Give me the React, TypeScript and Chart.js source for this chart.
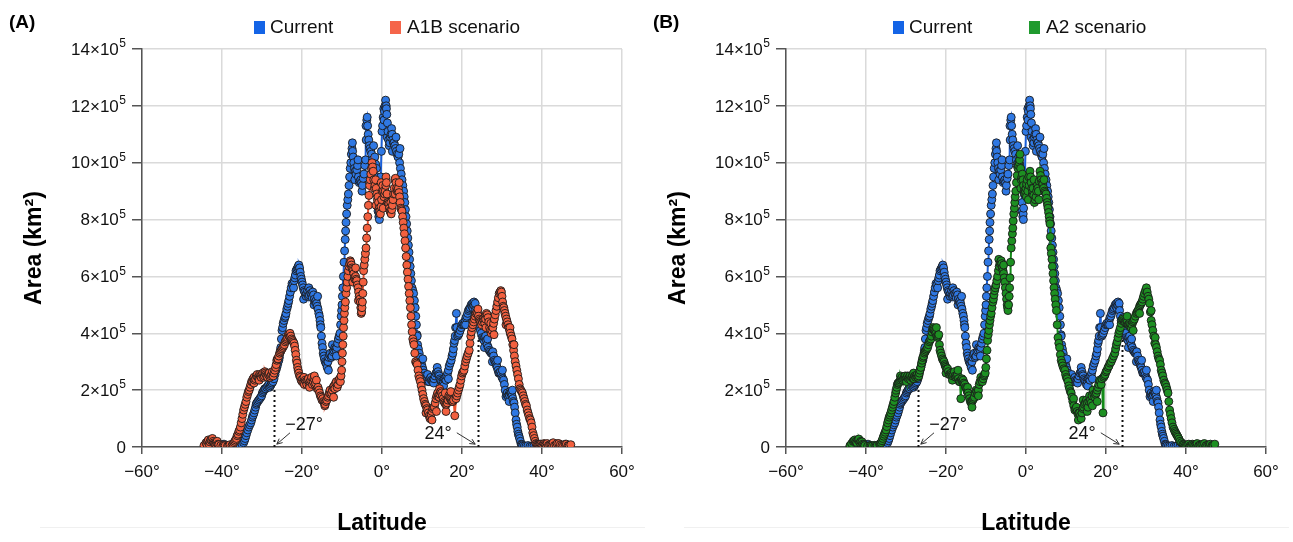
import React, { useEffect, useRef } from 'react';
import { Chart, registerables } from 'chart.js';

Chart.register(...registerables);

const FONT = "'Liberation Sans', Arial, Helvetica, sans-serif";

// ---------- Data (area in units of 10^5 km²) ----------
const currentLat = [
  -44, -43, -42, -41, -40, -39.5, -39, -38, -37, -36,
  -35, -34.6, -34.2, -33.8, -33.3, -32.8, -32.4, -32, -31.6, -31.3,
  -30.8, -30.3, -29.9, -29.5, -29.1, -28.8, -28.3, -27.9, -27.5, -27,
  -26.5, -26.1, -25.8, -25.5, -25.3, -25, -24.7, -24.3, -24, -23.6,
  -23.3, -22.9, -22.5, -22.1, -21.8, -21.5, -21.1, -20.8, -20.6, -20.3,
  -20, -19.7, -19.5, -19.1, -18.8, -18.4, -18, -17.6, -17.3, -16.9,
  -16.5, -16.2, -15.8, -15.5, -15.3, -15, -14.7, -14.4, -14, -13.7,
  -13.3, -12.9, -12.5, -12, -11.6, -11.3, -10.9, -10.5, -10.2, -10,
  -9.8, -9.5, -9.2, -9, -8.7, -8.4, -8.1, -7.8, -7.5, -7.2,
  -6.9, -6.5, -6.1, -5.7, -5.3, -4.9, -4.5, -4.1, -3.8, -3.6,
  -3.3, -3, -2.6, -2.2, -1.8, -1.4, -1.1, -0.8, -0.6, -0.3,
  0, 0.3, 0.6, 0.9, 1.2, 1.5, 1.8, 2.1, 2.4, 2.7,
  3, 3.4, 3.8, 4.2, 4.6, 5, 5.4, 5.7, 6, 6.3,
  6.6, 6.9, 7.2, 7.5, 7.9, 8.3, 8.6, 8.9, 9.3, 9.7,
  10.1, 10.5, 10.9, 11.3, 11.8, 12.2, 12.6, 13, 13.5, 14,
  14.3, 14.7, 15.1, 15.5, 16, 16.4, 16.8, 17.3, 17.7, 18,
  18.3, 18.4, 18.6, 18.9, 19.3, 19.8, 20.2, 20.6, 21, 21.4,
  21.8, 22.3, 22.7, 23, 23.4, 23.8, 24.2, 24.6, 25.1, 25.5,
  25.9, 26.3, 26.8, 27.3, 27.7, 28.1, 28.5, 28.8, 29.2, 29.6,
  30, 30.4, 30.8, 31, 31.3, 31.7, 32, 32.3, 32.7, 33,
  33.3, 33.5, 33.8, 34.1, 34.4, 34.8, 35.2, 36, 37, 38,
  39, 40,
];
const currentArea = [
  0.02, 0.05, 0.03, 0.04, 0.08, 0.1, 0.05, 0.03, 0.05, 0.05,
  0.1, 0.15, 0.3, 0.5, 0.7, 0.85, 1.05, 1.2, 1.4, 1.55,
  1.65, 1.75, 1.9, 2.0, 2.05, 2.1, 2.2, 2.15, 2.25, 2.4,
  2.7, 2.9, 3.05, 3.3, 3.5, 4.1, 4.35, 4.55, 4.7, 4.95,
  5.15, 5.45, 5.75, 5.6, 5.95, 6.2, 6.3, 6.4, 6.3, 6.0,
  5.8, 5.6, 5.5, 5.35, 5.4, 5.3, 5.5, 5.35, 5.45, 5.2,
  5.15, 4.95, 4.7, 4.45, 4.2, 3.65, 3.3, 3.1, 2.95, 2.8,
  3.15, 3.3, 3.2, 3.4, 3.45, 3.5, 3.8, 4.0, 4.6, 5.0,
  5.6, 6.5, 7.3, 7.9, 8.5, 8.9, 9.5, 10.0, 10.5, 10.2,
  9.8, 9.6, 9.9, 9.3, 9.4, 9.2, 9.6, 10.1, 11.5, 11.3,
  10.8, 10.5, 10.3, 9.9, 10.2, 9.8, 9.2, 8.1, 8.4, 9.5,
  11.1, 11.6, 11.8, 12.2, 11.7, 11.1, 10.6, 10.9, 11.2, 10.8,
  10.7, 10.5, 10.3, 10.3, 9.8, 9.4, 9.0, 8.6, 8.1, 7.6,
  7.1, 6.6, 6.1, 5.6, 5.4, 4.9, 4.3, 3.6, 3.3, 3.0,
  2.8, 2.6, 2.4, 2.35, 2.3, 2.45, 2.3, 2.4, 2.6, 2.65,
  2.5, 2.35, 2.2, 2.4, 2.35, 2.6, 2.85, 3.05, 3.3, 3.65,
  3.9, 4.2, 4.7, 3.9, 4.0, 4.2, 4.35, 4.3, 4.55, 4.7,
  4.85, 5.0, 4.9, 5.1, 4.8, 4.45, 4.3, 4.1, 3.85, 3.75,
  3.9, 3.6, 3.4, 3.3, 3.35, 3.05, 2.95, 2.8, 2.6, 2.65,
  2.45, 2.35, 2.0, 1.77, 1.9, 1.75, 1.95, 1.9, 1.7, 1.55,
  1.2, 0.95, 0.7, 0.45, 0.3, 0.1, 0.05, 0.03, 0.02, 0.05,
  0.03, 0.02,
];
// further points read between the ones above: [latitude, area]
const currentExtraPts: [number, number][] = [
  [-43.5, 0.08], [-42.5, 0.02], [-41.5, 0.06], [-40.5, 0.03], [-38.5, 0.02], [-37.5, 0.04], [-36.5, 0.02], [-35.5, 0.06],
  [-34.4, 0.22], [-34.0, 0.4], [-33.55, 0.6], [-33.05, 0.78], [-32.6, 0.95], [-32.2, 1.12], [-31.8, 1.3], [-31.45, 1.5],
  [-31.05, 1.6], [-30.55, 1.7], [-30.1, 1.8], [-29.7, 1.95], [-29.3, 2.05], [-28.55, 2.15], [-28.1, 2.1], [-27.7, 2.2],
  [-27.25, 2.3], [-26.75, 2.55], [-26.3, 2.8], [-25.95, 3.0], [-25.65, 3.15], [-25.4, 3.4], [-25.15, 3.8], [-24.85, 4.2],
  [-24.5, 4.45], [-24.15, 4.6], [-23.8, 4.85], [-23.45, 5.05], [-23.1, 5.3], [-22.7, 5.6], [-22.3, 5.7], [-21.95, 5.85],
  [-21.65, 6.05], [-21.3, 6.25], [-20.95, 6.35], [-20.45, 6.15], [-20.15, 5.9], [-19.85, 5.7], [-19.3, 5.45], [-18.95, 5.3],
  [-18.6, 5.5], [-18.2, 5.35], [-17.8, 5.4], [-17.45, 5.25], [-17.1, 5.35], [-16.7, 5.1], [-16.35, 5.05], [-16.0, 4.85],
  [-15.65, 4.6], [-15.4, 4.3], [-15.15, 3.9], [-14.85, 3.5], [-14.55, 3.2], [-14.2, 3.0], [-13.85, 2.9], [-13.5, 3.0],
  [-13.1, 3.25], [-12.7, 3.15], [-12.25, 3.35], [-11.8, 3.5], [-11.45, 3.4], [-11.1, 3.65], [-10.7, 3.9], [-10.35, 4.3],
  [-10.1, 4.8], [-9.9, 5.3], [-9.65, 6.0], [-9.35, 6.9], [-9.1, 7.6], [-8.85, 8.2], [-8.55, 8.7], [-8.25, 9.2],
  [-7.95, 9.8], [-7.65, 10.3], [-7.35, 10.4], [-7.05, 10.0], [-6.7, 9.7], [-6.3, 9.75], [-5.9, 9.5], [-5.5, 9.35],
  [-5.1, 9.3], [-4.7, 9.45], [-4.3, 9.9], [-3.95, 10.8], [-3.45, 11.0], [-3.15, 10.6], [-2.8, 10.4], [-2.4, 10.1],
  [-2.0, 10.0], [-1.6, 9.95], [-1.25, 9.5], [-0.95, 8.6], [-0.7, 8.2], [-0.45, 8.9], [-0.15, 10.4], [0.15, 11.3],
  [0.45, 11.9], [0.75, 12.0], [1.05, 12.0], [1.35, 11.4], [1.65, 10.8], [1.95, 10.7], [2.25, 11.0], [2.55, 11.0],
  [2.85, 10.7], [3.2, 10.6], [3.6, 10.4], [4.0, 10.2], [4.4, 10.0], [4.8, 9.6], [5.2, 9.2], [5.55, 8.8],
  [5.85, 8.35], [6.15, 7.85], [6.45, 7.35], [6.75, 6.85], [7.05, 6.35], [7.35, 5.85], [7.7, 5.5], [8.1, 5.15],
  [8.45, 4.6], [8.75, 3.95], [9.1, 3.45], [9.5, 3.15], [9.9, 2.9], [10.3, 2.7], [10.7, 2.5], [11.1, 2.4],
  [11.55, 2.3], [12.0, 2.4], [12.4, 2.35], [12.8, 2.35], [13.25, 2.5], [13.75, 2.65], [14.15, 2.55], [14.5, 2.4],
  [14.9, 2.3], [15.3, 2.3], [15.75, 2.4], [16.2, 2.5], [16.6, 2.7], [17.05, 2.95], [17.5, 3.2], [17.85, 3.45],
  [18.15, 3.75], [19.1, 3.95], [19.55, 4.1], [20.0, 4.3], [20.4, 4.3], [20.8, 4.45], [21.2, 4.6], [21.6, 4.8],
  [22.05, 4.9], [22.5, 4.95], [22.85, 5.0], [23.2, 4.95], [23.6, 4.6], [24.0, 4.35], [24.4, 4.2], [24.85, 4.0],
  [25.3, 3.8], [25.7, 3.85], [26.1, 3.75], [26.55, 3.5], [27.05, 3.35], [27.5, 3.3], [27.9, 3.2], [28.3, 3.0],
  [28.65, 2.85], [29.0, 2.7], [29.4, 2.6], [29.8, 2.55], [30.2, 2.4], [30.6, 2.2], [31.15, 1.85], [31.5, 1.8],
  [31.85, 1.85], [32.15, 1.9], [32.5, 1.8], [32.85, 1.6], [33.15, 1.4], [33.65, 0.8], [33.95, 0.55], [34.25, 0.38],
  [34.6, 0.2], [35.0, 0.08], [35.6, 0.04], [36.5, 0.05], [37.5, 0.03], [38.5, 0.02], [39.5, 0.04],
];
// scattered points lying off the main trace
const currentScatterPts: [number, number][] = [
  [-19.6, 5.2], [-18.3, 5.6], [-17.0, 5.0], [-16.1, 5.3], [-13.4, 2.7], [-12.4, 3.6], [-11.4, 3.2], [-7.4, 10.7],
  [-6.8, 9.4], [-6.0, 10.1], [-5.0, 9.0], [-4.0, 11.3], [-3.7, 11.6], [-2.1, 10.6], [-1.0, 8.3], [-0.65, 8.0],
  [0.5, 11.5], [1.1, 11.9], [1.3, 10.9], [2.6, 10.4], [3.5, 10.9], [4.5, 10.5], [8.8, 3.9], [10.2, 3.1],
  [11.4, 2.55], [12.9, 2.25], [13.8, 2.8], [15.4, 2.15], [16.6, 2.4], [18.7, 4.2], [20.9, 4.3], [22.6, 5.05],
  [23.3, 5.05], [24.3, 4.55], [25.6, 3.5], [26.4, 3.8], [27.6, 3.0], [28.9, 3.05], [30.1, 2.7], [31.8, 1.6],
  [32.6, 2.0],
];

const a1bLat = [
  -44.5, -44, -43.6, -43.2, -42.8, -42.4, -42, -41.6, -41.2, -40.8,
  -40.3, -39.8, -39.2, -38.6, -38, -37.5, -37, -36.6, -36.2, -35.8,
  -35.4, -35, -34.6, -34.2, -33.8, -33.4, -33, -32.6, -32.2, -31.8,
  -31.4, -31, -30.6, -30.2, -29.8, -29.4, -29, -28.6, -28.2, -27.8,
  -27.4, -27, -26.6, -26.3, -26, -25.6, -25.2, -24.8, -24.4, -24,
  -23.6, -23.2, -22.8, -22.4, -22, -21.7, -21.4, -21.1, -20.8, -20.4,
  -20, -19.6, -19.2, -18.8, -18.4, -18, -17.6, -17.2, -16.8, -16.4,
  -16, -15.6, -15.2, -14.8, -14.4, -14, -13.6, -13.2, -12.8, -12.4,
  -12, -11.6, -11.2, -10.8, -10.4, -10.1, -9.9, -9.7, -9.5, -9.3,
  -9, -8.7, -8.4, -8.1, -7.8, -7.5, -7.2, -6.9, -6.6, -6.3,
  -6, -5.7, -5.4, -5.2, -5, -4.8, -4.6, -4.3, -4, -3.7,
  -3.4, -3.1, -2.8, -2.5, -2.2, -1.9, -1.6, -1.3, -1, -0.7,
  -0.4, -0.1, 0.2, 0.5, 0.8, 1.1, 1.4, 1.7, 2, 2.3,
  2.6, 2.9, 3.2, 3.5, 3.8, 4.1, 4.4, 4.7, 5, 5.3,
  5.6, 5.9, 6.2, 6.5, 6.8, 7.1, 7.4, 7.7, 8, 8.4,
  8.8, 9.2, 9.6, 10, 10.4, 10.8, 11.2, 11.6, 12, 12.3,
  12.7, 13.1, 13.5, 13.9, 14.3, 14.7, 15.1, 15.5, 15.9, 16.3,
  16.7, 17.1, 17.5, 17.9, 18.2, 18.5, 18.9, 19.3, 19.7, 20.1,
  20.5, 20.9, 21.3, 21.8, 22.2, 22.5, 22.9, 23.3, 23.7, 24.1,
  24.5, 24.9, 25.3, 25.7, 26.1, 26.5, 26.9, 27.3, 27.7, 28.1,
  28.5, 28.9, 29.3, 29.7, 30, 30.3, 30.6, 30.9, 31.3, 31.7,
  32.1, 32.5, 32.9, 33.3, 33.7, 34.1, 34.5, 34.9, 35.3, 35.7,
  36.1, 36.5, 36.9, 37.3, 37.7, 38.1, 38.5, 39, 39.5, 40,
  40.5, 41, 41.6, 42.2, 42.8, 43.5, 44.2, 45, 45.8, 46.5,
  47.2,
];
const a1bArea = [
  0.05, 0.15, 0.2, 0.1, 0.25, 0.3, 0.15, 0.1, 0.2, 0.08,
  0.05, 0.03, 0.05, 0.04, 0.08, 0.05, 0.15, 0.25, 0.4, 0.55,
  0.7, 1.0, 1.3, 1.5, 1.75, 1.95, 2.1, 2.3, 2.4, 2.35,
  2.5, 2.45, 2.55, 2.45, 2.6, 2.5, 2.55, 2.45, 2.6, 2.5,
  2.65, 2.6, 2.8, 3.05, 3.1, 3.3, 3.4, 3.5, 3.6, 3.75,
  3.85, 3.9, 3.9, 3.75, 3.65, 3.4, 3.05, 2.8, 2.6, 2.45,
  2.3, 2.25, 2.35, 2.2, 2.4, 2.3, 2.45, 2.3, 2.2, 2.35,
  2.1, 1.9, 1.75, 1.7, 1.55, 1.6, 1.75, 1.9, 1.85, 2.0,
  2.15, 2.25, 2.1, 2.35, 2.3, 2.7, 3.3, 3.9, 4.45, 4.9,
  5.4, 5.8, 6.2, 6.45, 6.5, 6.3, 6.2, 5.95, 6.0, 5.85,
  5.6, 5.3, 5.1, 4.7, 4.9, 5.4, 6.2, 6.6, 7.0, 7.7,
  8.5, 9.2, 9.6, 10.0, 9.7, 9.1, 9.4, 8.9, 8.8, 8.4,
  8.2, 8.7, 9.2, 8.8, 9.0, 9.3, 8.6, 8.55, 8.3, 8.2,
  8.5, 8.9, 9.4, 9.3, 9.0, 9.1, 8.8, 8.4, 8.3, 7.9,
  7.5, 7.0, 6.4, 5.9, 5.4, 4.9, 4.3, 3.8, 3.6, 3.0,
  2.9, 2.5, 2.3, 2.0, 1.7, 1.5, 1.35, 1.2, 1.0, 1.15,
  1.35, 1.4, 1.7, 1.9, 1.75, 1.95, 1.8, 1.6, 1.5, 1.55,
  1.8, 1.7, 1.6, 1.65, 1.1, 1.7, 1.9, 2.1, 2.35, 2.6,
  2.7, 3.0, 3.2, 3.4, 3.9, 4.2, 4.4, 4.6, 4.75, 4.6,
  4.45, 4.3, 4.5, 4.35, 4.7, 4.55, 4.2, 4.0, 4.2, 4.5,
  4.8, 5.1, 5.4, 5.5, 5.3, 4.95, 4.8, 4.6, 4.4, 4.2,
  4.0, 3.8, 3.4, 3.0, 2.7, 2.4, 2.05, 1.95, 1.8, 1.6,
  1.45, 1.2, 1.0, 0.85, 0.5, 0.3, 0.12, 0.08, 0.1, 0.06,
  0.12, 0.08, 0.05, 0.1, 0.15, 0.08, 0.12, 0.06, 0.1, 0.05,
  0.08,
];
const a1bExtraPts: [number, number][] = [
  [-43.8, 0.1], [-43.4, 0.25], [-43.0, 0.18], [-42.6, 0.22], [-42.2, 0.2], [-41.8, 0.12], [-41.4, 0.15], [-41.0, 0.1],
  [-39.5, 0.06], [-38.3, 0.05], [-37.25, 0.1], [-36.8, 0.2], [-36.4, 0.3], [-36.0, 0.45], [-35.6, 0.6], [-35.2, 0.85],
  [-34.8, 1.15], [-34.4, 1.4], [-34.0, 1.6], [-33.6, 1.85], [-33.2, 2.0], [-32.8, 2.2], [-32.4, 2.3], [-32.0, 2.45],
  [-31.6, 2.4], [-31.2, 2.55], [-30.8, 2.4], [-30.4, 2.5], [-30.0, 2.55], [-29.6, 2.45], [-29.2, 2.6], [-28.8, 2.5],
  [-28.4, 2.55], [-28.0, 2.45], [-27.6, 2.55], [-27.2, 2.5], [-26.8, 2.7], [-26.45, 2.9], [-26.15, 3.1], [-25.8, 3.2],
  [-25.4, 3.35], [-25.0, 3.45], [-24.6, 3.55], [-24.2, 3.7], [-23.8, 3.8], [-23.4, 3.95], [-23.0, 3.85], [-22.6, 3.8],
  [-22.2, 3.7], [-21.85, 3.55], [-21.55, 3.25], [-21.25, 2.95], [-20.95, 2.7], [-20.6, 2.5], [-20.2, 2.35], [-19.8, 2.4],
  [-19.4, 2.2], [-19.0, 2.3], [-18.6, 2.35], [-18.2, 2.2], [-17.8, 2.35], [-17.4, 2.2], [-17.0, 2.4], [-16.6, 2.25],
  [-16.2, 2.05], [-15.8, 2.0], [-15.4, 1.8], [-15.0, 1.65], [-14.6, 1.6], [-14.2, 1.5], [-13.8, 1.65], [-13.4, 1.8],
  [-13.0, 2.0], [-12.6, 1.9], [-12.2, 2.1], [-11.8, 2.05], [-11.4, 2.3], [-11.0, 2.2], [-10.6, 2.4], [-10.25, 2.5],
  [-10.0, 3.0], [-9.8, 3.6], [-9.6, 4.2], [-9.4, 4.7], [-9.15, 5.1], [-8.85, 5.6], [-8.55, 6.0], [-8.25, 6.35],
  [-7.95, 6.55], [-7.65, 6.4], [-7.35, 6.25], [-7.05, 6.1], [-6.75, 5.9], [-6.45, 5.9], [-6.15, 5.7], [-5.85, 5.45],
  [-5.55, 5.2], [-5.3, 4.9], [-5.1, 4.75], [-4.9, 5.1], [-4.7, 5.8], [-4.45, 6.4], [-4.15, 6.8], [-3.85, 7.35],
  [-3.55, 8.1], [-3.25, 8.85], [-2.95, 9.4], [-2.65, 9.8], [-2.35, 9.85], [-2.05, 9.4], [-1.75, 9.2], [-1.45, 9.1],
  [-1.15, 8.7], [-0.85, 8.6], [-0.55, 8.3], [-0.25, 8.45], [0.05, 9.0], [0.35, 9.0], [0.65, 8.9], [0.95, 9.2],
  [1.25, 8.9], [1.55, 8.6], [1.85, 8.4], [2.15, 8.25], [2.45, 8.35], [2.75, 8.7], [3.05, 9.1], [3.35, 9.45],
  [3.65, 9.1], [3.95, 9.05], [4.25, 8.95], [4.55, 8.6], [4.85, 8.35], [5.15, 8.1], [5.45, 7.7], [5.75, 7.25],
  [6.05, 6.7], [6.35, 6.15], [6.65, 5.65], [6.95, 5.15], [7.25, 4.6], [7.55, 4.05], [7.85, 3.7], [8.2, 3.3],
  [8.6, 2.95], [9.0, 2.7], [9.4, 2.4], [9.8, 2.15], [10.2, 1.85], [10.6, 1.6], [11.0, 1.45], [11.4, 1.3],
  [11.8, 1.1], [12.15, 1.05], [12.5, 1.25], [12.9, 1.4], [13.3, 1.55], [13.7, 1.8], [14.1, 1.8], [14.5, 1.85],
  [14.9, 1.9], [15.3, 1.7], [15.7, 1.55], [16.1, 1.5], [16.5, 1.65], [16.9, 1.75], [17.3, 1.65], [17.7, 1.6],
  [18.7, 1.8], [19.1, 2.0], [19.5, 2.2], [19.9, 2.5], [20.3, 2.65], [20.7, 2.85], [21.1, 3.1], [21.55, 3.3],
  [22.0, 3.65], [22.35, 4.05], [22.7, 4.3], [23.1, 4.5], [23.5, 4.7], [23.9, 4.7], [24.3, 4.5], [24.7, 4.4],
  [25.1, 4.4], [25.5, 4.45], [25.9, 4.5], [26.3, 4.65], [26.7, 4.4], [27.1, 4.1], [27.5, 4.1], [27.9, 4.35],
  [28.3, 4.65], [28.7, 4.95], [29.1, 5.25], [29.5, 5.45], [29.85, 5.45], [30.15, 5.1], [30.45, 4.9], [30.75, 4.7],
  [31.1, 4.5], [31.5, 4.3], [31.9, 4.1], [32.3, 3.9], [32.7, 3.6], [33.1, 3.2], [33.5, 2.85], [33.9, 2.55],
  [34.3, 2.2], [34.7, 2.0], [35.1, 1.9], [35.5, 1.7], [35.9, 1.5], [36.3, 1.3], [36.7, 1.1], [37.1, 0.95],
  [37.5, 0.7], [37.9, 0.4], [38.3, 0.2], [38.75, 0.1], [39.25, 0.08], [39.75, 0.1], [40.25, 0.05], [40.75, 0.1],
  [41.3, 0.12], [41.9, 0.08], [42.5, 0.1], [43.1, 0.05], [43.8, 0.12], [44.6, 0.08], [45.4, 0.06], [46.1, 0.1],
  [46.8, 0.05],
];
const a1bScatterPts: [number, number][] = [
  [-32.0, 2.25], [-30.7, 2.35], [-29.3, 2.65], [-23.0, 4.0], [-19.5, 2.45], [-18.1, 2.1], [-16.9, 2.5], [-14.3, 1.45],
  [-12.1, 1.75], [-7.3, 5.8], [-6.6, 6.3], [-5.9, 5.15], [-1.5, 8.5], [-0.2, 9.3], [0.3, 8.4], [1.0, 9.5],
  [2.2, 8.6], [3.3, 8.9], [4.3, 9.3], [11.0, 1.2], [12.5, 0.95], [13.6, 1.25], [14.4, 2.05], [15.8, 1.9],
  [16.0, 1.25], [17.2, 1.95], [24.0, 4.85], [25.8, 4.6], [26.0, 4.2], [27.2, 4.35], [28.0, 3.95], [31.0, 4.3],
  [32.0, 4.2], [33.0, 3.6],
];

const a2Lat = [
  -44, -43.2, -42.8, -42.3, -41.8, -41.3, -40.8, -40.3, -39.6, -39,
  -38.4, -37.8, -37.2, -36.6, -36.2, -35.8, -35.4, -35, -34.6, -34.2,
  -33.8, -33.4, -33, -32.6, -32.3, -32, -31.6, -31.2, -30.8, -30.4,
  -30, -29.6, -29.2, -28.8, -28.4, -28, -27.6, -27.2, -26.8, -26.5,
  -26.1, -25.8, -25.4, -25, -24.6, -24.2, -23.8, -23.5, -23.2, -22.9,
  -22.5, -22.1, -21.8, -21.5, -21.1, -20.7, -20.3, -20, -19.6, -19.2,
  -18.7, -18.3, -17.9, -17.5, -17.1, -16.7, -16.3, -16, -15.7, -15.3,
  -14.9, -14.5, -14.1, -13.7, -13.3, -12.9, -12.5, -12.1, -11.7, -11.3,
  -10.9, -10.5, -10.2, -9.9, -9.6, -9.3, -9, -8.7, -8.3, -8,
  -7.7, -7.3, -6.9, -6.5, -6.2, -5.9, -5.6, -5.3, -5, -4.7,
  -4.5, -4.2, -4, -3.7, -3.4, -3.2, -2.9, -2.7, -2.4, -2,
  -1.7, -1.5, -1.2, -0.9, -0.6, -0.3, 0, 0.3, 0.6, 1,
  1.3, 1.6, 1.8, 2.1, 2.5, 2.8, 3.1, 3.5, 3.8, 4.2,
  4.6, 5, 5.3, 5.5, 5.8, 6, 6.2, 6.5, 6.75, 7,
  7.3, 7.6, 8, 8.4, 8.8, 9.2, 9.7, 10.1, 10.5, 10.9,
  11.3, 11.7, 12.2, 12.6, 13, 13.4, 13.8, 14.2, 14.6, 15.1,
  15.5, 15.9, 16.3, 16.75, 17.2, 17.6, 18, 18.4, 18.8, 19.25,
  19.6, 20, 20.5, 21, 21.6, 22.2, 22.6, 23, 23.4, 23.8,
  24.2, 24.6, 25.1, 25.5, 25.9, 26.3, 26.7, 27.1, 27.6, 28,
  28.4, 28.8, 29.2, 29.6, 30.1, 30.5, 30.9, 31.3, 31.7, 32.2,
  32.6, 33, 33.4, 33.8, 34.2, 34.7, 35.1, 35.5, 35.9, 36.3,
  36.75, 37.2, 37.6, 38, 38.5, 39.25, 39.8, 40.4, 41, 41.6,
  42.2, 42.8, 43.5, 44.2, 45, 45.8, 46.5, 47.2,
];
const a2Area = [
  0.05, 0.2, 0.25, 0.15, 0.28, 0.2, 0.1, 0.05, 0.03, 0.05,
  0.04, 0.06, 0.05, 0.1, 0.15, 0.3, 0.45, 0.6, 0.85, 1.05,
  1.2, 1.4, 1.6, 1.9, 2.1, 2.25, 2.3, 2.4, 2.35, 2.45,
  2.4, 2.5, 2.45, 2.35, 2.5, 2.4, 2.45, 2.55, 2.5, 2.7,
  2.95, 3.15, 3.3, 3.4, 3.5, 3.7, 3.8, 4.05, 4.2, 4.1,
  4.0, 3.85, 3.95, 3.4, 3.2, 3.05, 2.9, 2.8, 2.75, 2.55,
  2.6, 2.5, 2.65, 2.45, 2.55, 2.3, 1.7, 2.4, 2.35, 2.2,
  2.05, 1.9, 1.7, 1.55, 1.65, 1.75, 2.0, 1.85, 2.2, 2.45,
  2.3, 2.5, 2.6, 3.1, 3.75, 4.1, 4.45, 4.7, 5.1, 5.35,
  5.6, 5.85, 6.2, 6.45, 6.55, 6.3, 6.1, 5.8, 5.4, 5.0,
  4.8, 5.3, 5.95, 7.0, 7.5, 7.95, 8.4, 8.8, 9.3, 9.8,
  10.0, 10.3, 9.4, 9.6, 9.2, 8.9, 9.1, 9.4, 8.7, 9.7,
  9.3, 8.9, 9.1, 8.6, 8.8, 9.2, 9.0, 9.7, 9.4, 9.25,
  9.0, 8.9, 8.6, 8.4, 8.1, 7.85, 7.0, 6.6, 6.1, 5.6,
  5.2, 4.8, 3.85, 3.5, 3.05, 2.85, 2.7, 2.45, 2.3, 2.05,
  1.9, 1.6, 1.3, 1.4, 1.15, 1.2, 1.0, 1.35, 1.5, 1.65,
  1.4, 1.8, 1.55, 2.0, 1.75, 1.9, 2.1, 2.35, 2.2, 1.2,
  2.5, 2.65, 2.8, 2.95, 3.1, 3.3, 3.6, 3.85, 4.1, 4.35,
  4.5, 4.4, 4.45, 4.3, 4.35, 4.2, 4.4, 4.5, 4.7, 4.8,
  4.95, 5.05, 5.2, 5.4, 5.6, 5.3, 5.05, 4.45, 4.1, 3.65,
  3.5, 3.2, 3.05, 2.7, 2.5, 2.25, 2.1, 1.9, 1.3, 1.0,
  0.7, 0.55, 0.45, 0.35, 0.2, 0.1, 0.05, 0.08, 0.04, 0.1,
  0.06, 0.12, 0.07, 0.1, 0.05, 0.08, 0.05, 0.1,
];
const a2ExtraPts: [number, number][] = [
  [-43.6, 0.12], [-43.0, 0.22], [-42.5, 0.2], [-42.0, 0.25], [-41.5, 0.15], [-41.0, 0.18], [-40.5, 0.08], [-38.7, 0.05],
  [-37.5, 0.04], [-36.4, 0.12], [-36.0, 0.22], [-35.6, 0.38], [-35.2, 0.52], [-34.8, 0.72], [-34.4, 0.95], [-34.0, 1.12],
  [-33.6, 1.3], [-33.2, 1.5], [-32.8, 1.75], [-32.45, 2.0], [-32.15, 2.2], [-31.8, 2.25], [-31.4, 2.35], [-31.0, 2.45],
  [-30.6, 2.4], [-30.2, 2.5], [-29.8, 2.45], [-29.4, 2.4], [-29.0, 2.5], [-28.6, 2.45], [-28.2, 2.4], [-27.8, 2.5],
  [-27.4, 2.5], [-27.0, 2.45], [-26.65, 2.6], [-26.3, 2.8], [-25.95, 3.05], [-25.6, 3.2], [-25.2, 3.35], [-24.8, 3.45],
  [-24.4, 3.6], [-24.0, 3.75], [-23.65, 3.9], [-23.35, 4.15], [-23.05, 4.15], [-22.7, 4.05], [-22.3, 3.9], [-21.95, 3.9],
  [-21.65, 3.6], [-21.3, 3.3], [-20.9, 3.1], [-20.5, 3.0], [-20.15, 2.85], [-19.8, 2.75], [-19.4, 2.65], [-18.95, 2.55],
  [-18.5, 2.55], [-18.1, 2.55], [-17.7, 2.5], [-17.3, 2.5], [-16.9, 2.4], [-16.5, 2.3], [-16.15, 2.35], [-15.85, 2.3],
  [-15.5, 2.25], [-15.1, 2.1], [-14.7, 1.95], [-14.3, 1.8], [-13.9, 1.6], [-13.5, 1.6], [-13.1, 1.7], [-12.7, 1.9],
  [-12.3, 1.95], [-11.9, 2.0], [-11.5, 2.3], [-11.1, 2.35], [-10.7, 2.4], [-10.35, 2.55], [-10.05, 2.8], [-9.75, 3.4],
  [-9.45, 3.95], [-9.15, 4.3], [-8.85, 4.6], [-8.5, 4.9], [-8.15, 5.2], [-7.85, 5.5], [-7.5, 5.7], [-7.1, 6.0],
  [-6.7, 6.35], [-6.35, 6.5], [-6.05, 6.45], [-5.75, 6.2], [-5.45, 5.95], [-5.15, 5.6], [-4.85, 5.2], [-4.6, 4.9],
  [-4.35, 5.0], [-4.1, 5.6], [-3.85, 6.5], [-3.55, 7.25], [-3.3, 7.7], [-3.05, 8.2], [-2.8, 8.6], [-2.55, 9.0],
  [-2.2, 9.55], [-1.85, 9.9], [-1.6, 10.1], [-1.35, 9.8], [-1.05, 9.5], [-0.75, 9.4], [-0.45, 9.0], [-0.15, 9.0],
  [0.15, 9.25], [0.45, 9.0], [0.8, 9.2], [1.15, 9.5], [1.45, 9.1], [1.7, 9.0], [1.95, 8.85], [2.3, 8.7],
  [2.65, 9.0], [2.95, 9.1], [3.3, 9.35], [3.65, 9.55], [4.0, 9.3], [4.4, 9.1], [4.8, 8.95], [5.15, 8.75],
  [5.4, 8.5], [5.65, 8.25], [5.9, 7.95], [6.1, 7.4], [6.35, 6.8], [6.6, 6.35], [6.9, 5.85], [7.15, 5.4],
  [7.45, 5.0], [7.8, 4.3], [8.2, 3.65], [8.6, 3.25], [9.0, 2.95], [9.45, 2.75], [9.9, 2.55], [10.3, 2.4],
  [10.7, 2.15], [11.1, 1.95], [11.5, 1.75], [11.95, 1.45], [12.4, 1.35], [12.8, 1.25], [13.2, 1.2], [13.6, 1.1],
  [14.0, 1.2], [14.4, 1.4], [14.85, 1.55], [15.3, 1.55], [15.7, 1.6], [16.1, 1.65], [16.5, 1.8], [17.0, 1.85],
  [17.4, 1.85], [17.8, 2.0], [18.2, 2.2], [18.6, 2.3], [19.0, 2.4], [19.4, 2.45], [19.8, 2.55], [20.25, 2.7],
  [20.75, 2.85], [21.3, 3.0], [21.9, 3.2], [22.4, 3.45], [22.8, 3.7], [23.2, 4.0], [23.6, 4.2], [24.0, 4.45],
  [24.4, 4.45], [24.85, 4.4], [25.3, 4.4], [25.7, 4.3], [26.1, 4.3], [26.5, 4.3], [26.9, 4.45], [27.35, 4.6],
  [27.8, 4.75], [28.2, 4.85], [28.6, 5.0], [29.0, 5.1], [29.4, 5.3], [29.85, 5.5], [30.3, 5.45], [30.7, 5.2],
  [31.1, 4.75], [31.5, 4.3], [31.95, 3.9], [32.4, 3.6], [32.8, 3.35], [33.2, 3.1], [33.6, 2.9], [34.0, 2.6],
  [34.45, 2.35], [34.9, 2.2], [35.3, 2.0], [35.7, 1.6], [36.1, 1.15], [36.5, 0.85], [37.0, 0.62], [37.4, 0.5],
  [37.8, 0.4], [38.25, 0.28], [38.9, 0.15], [39.5, 0.08], [40.1, 0.06], [40.7, 0.1], [41.3, 0.05], [41.9, 0.08],
  [42.5, 0.1], [43.2, 0.05], [43.9, 0.08], [44.6, 0.12], [45.4, 0.06], [46.1, 0.1], [46.8, 0.06],
];
const a2ScatterPts: [number, number][] = [
  [-31.4, 2.5], [-29.9, 2.3], [-28.1, 2.6], [-22.4, 4.2], [-20.0, 2.6], [-18.4, 2.35], [-17.0, 2.7], [-14.6, 2.1],
  [-13.5, 1.4], [-11.9, 1.8], [-6.8, 6.6], [-5.6, 6.4], [-1.3, 9.1], [0.1, 8.8], [0.7, 9.5], [2.0, 9.4],
  [3.2, 8.7], [4.5, 9.4], [11.9, 1.7], [13.1, 0.95], [14.3, 1.65], [15.3, 1.25], [16.6, 1.45], [17.8, 1.6],
  [25.3, 4.6], [26.8, 4.1], [28.4, 4.7], [31.3, 4.8], [32.3, 3.85],
];

// Marked latitudes (dotted lines) and their heights
const markLats = [-27, 24];
const markTops = [2.1, 4.3];
const markLabels = ['\u221227\u00b0', '24\u00b0'];

const xMin = -60, xMax = 60, xStep = 20;
const yMin = 0, yMax = 14, yStep = 2;
const yTickValues = [0, 2, 4, 6, 8, 10, 12, 14];

// ---------- Styles ----------
const BLUE = { fill: '#2f78e3', line: '#1a5fd8', legend: '#1464e6' };
const RED = { fill: '#f2603f', line: '#ee4f2b', legend: '#f5654a' };
const GREEN = { fill: '#1d8f22', line: '#138a18', legend: '#1f9a2e' };

function series(lat: number[], area: number[], extra: [number, number][], scatter: [number, number][]) {
  const n = Math.min(lat.length, area.length);
  const out: { x: number; y: number }[] = [];
  for (let i = 0; i < n; i++) out.push({ x: lat[i], y: area[i] });
  extra.forEach(([x, y]) => out.push({ x, y }));
  scatter.forEach(([x, y]) => out.push({ x, y }));
  out.sort((a, b) => a.x - b.x);
  return out;
}

function fmtLat(v: number) {
  if (v === 0) return '0\u00b0';
  return (v < 0 ? '\u2212' + Math.abs(v) : String(v)) + '\u00b0';
}

type Spec = {
  tag: string;
  scenario: string;
  lat: number[];
  area: number[];
  extra: [number, number][];
  scatter: [number, number][];
  colors: { fill: string; line: string; legend: string };
  legendShift: number;
};

function arrow(ctx: CanvasRenderingContext2D, x1: number, y1: number, x2: number, y2: number) {
  ctx.save();
  ctx.strokeStyle = '#333';
  ctx.lineWidth = 1;
  ctx.beginPath();
  ctx.moveTo(x1, y1);
  ctx.lineTo(x2, y2);
  ctx.stroke();
  const ang = Math.atan2(y2 - y1, x2 - x1);
  const L = 6;
  ctx.beginPath();
  ctx.moveTo(x2 - L * Math.cos(ang - 0.45), y2 - L * Math.sin(ang - 0.45));
  ctx.lineTo(x2, y2);
  ctx.lineTo(x2 - L * Math.cos(ang + 0.45), y2 - L * Math.sin(ang + 0.45));
  ctx.stroke();
  ctx.restore();
}

function makeOverlay(spec: Spec) {
  return {
    id: 'overlay' + spec.tag,
    beforeDraw(chart: any) {
      const { ctx } = chart;
      ctx.save();
      ctx.strokeStyle = '#f0f0f0';
      ctx.lineWidth = 1;
      ctx.beginPath();
      ctx.moveTo(40, 527.5);
      ctx.lineTo(chart.width, 527.5);
      ctx.stroke();
      ctx.restore();
    },
    beforeDatasetsDraw(chart: any) {
      const { ctx, scales } = chart;
      const xs = scales.x, ys = scales.y;
      ctx.save();
      ctx.strokeStyle = '#111';
      ctx.lineWidth = 2;
      ctx.setLineDash([2, 3]);
      markLats.forEach((lat, i) => {
        const px = Math.round(xs.getPixelForValue(lat)) + 0.5;
        ctx.beginPath();
        ctx.moveTo(px, ys.getPixelForValue(0));
        ctx.lineTo(px, ys.getPixelForValue(markTops[i]));
        ctx.stroke();
      });
      ctx.restore();
    },
    afterDatasetsDraw(chart: any) {
      const { ctx, scales } = chart;
      const xs = scales.x, ys = scales.y;
      const X = (v: number) => xs.getPixelForValue(v);
      const Y = (v: number) => ys.getPixelForValue(v);
      ctx.save();
      ctx.fillStyle = '#111';
      ctx.font = `18px ${FONT}`;
      ctx.textAlign = 'center';
      ctx.textBaseline = 'middle';
      ctx.fillText(markLabels[0], X(-19.5), Y(0.78));
      ctx.fillText(markLabels[1], X(14), Y(0.46));
      ctx.restore();
      arrow(ctx, X(-23), Y(0.5), X(-26.3), Y(0.1));
      arrow(ctx, X(18.7), Y(0.5), X(23.3), Y(0.1));
    },
    afterDraw(chart: any) {
      const { ctx, scales } = chart;
      const ys = scales.y;
      ctx.save();
      // y tick labels with superscript exponent
      const R = 126;
      ctx.fillStyle = '#111';
      ctx.textBaseline = 'middle';
      ctx.textAlign = 'left';
      yTickValues.forEach((v) => {
        const y = ys.getPixelForValue(v);
        ctx.font = `17px ${FONT}`;
        if (v === 0) {
          const w = ctx.measureText('0').width;
          ctx.fillText('0', R - w, y + 1);
          return;
        }
        const base = `${v}\u00d710`;
        const wb = ctx.measureText(base).width;
        ctx.font = `12px ${FONT}`;
        const ws = ctx.measureText('5').width;
        ctx.fillText('5', R - ws, y - 5);
        ctx.font = `17px ${FONT}`;
        ctx.fillText(base, R - ws - wb - 0.5, y + 1);
      });
      // panel tag
      ctx.fillStyle = '#000';
      ctx.font = `bold 19px ${FONT}`;
      ctx.fillText(`(${spec.tag})`, 9, 23);
      // legend
      const s = spec.legendShift;
      ctx.font = `19px ${FONT}`;
      ctx.fillStyle = BLUE.legend;
      ctx.fillRect(254 + s, 21, 11, 13);
      ctx.fillStyle = '#111';
      ctx.fillText('Current', 270 + s, 28);
      ctx.fillStyle = spec.colors.legend;
      ctx.fillRect(390 + s, 21, 11, 13);
      ctx.fillStyle = '#111';
      ctx.fillText(spec.scenario, 407 + s, 28);
      ctx.restore();
    },
  };
}

function buildConfig(spec: Spec): any {
  const gridColor = '#dadada';
  const axisColor = '#555';
  const pointStyle = {
    showLine: true,
    borderWidth: 2,
    pointBorderColor: '#1a1a1a',
    pointBorderWidth: 0.9,
    pointRadius: 4,
    tension: 0,
  };
  return {
    type: 'scatter',
    data: {
      datasets: [
        {
          label: 'Current',
          data: series(currentLat, currentArea, currentExtraPts, currentScatterPts),
          borderColor: BLUE.line,
          backgroundColor: BLUE.fill,
          pointBackgroundColor: BLUE.fill,
          order: 1,
          ...pointStyle,
        },
        {
          label: spec.scenario,
          data: series(spec.lat, spec.area, spec.extra, spec.scatter),
          borderColor: spec.colors.line,
          backgroundColor: spec.colors.fill,
          pointBackgroundColor: spec.colors.fill,
          order: 0,
          ...pointStyle,
        },
      ],
    },
    options: {
      animation: false,
      responsive: false,
      devicePixelRatio: 1,
      layout: { padding: { left: 0, right: 23, top: 49, bottom: 0 } },
      plugins: { legend: { display: false }, tooltip: { enabled: false } },
      scales: {
        x: {
          type: 'linear',
          min: xMin,
          max: xMax,
          ticks: {
            stepSize: xStep,
            callback: (v: number) => fmtLat(v),
            color: '#111',
            font: { family: FONT, size: 17 },
            padding: 8,
            maxRotation: 0,
          },
          grid: { color: gridColor, lineWidth: 1.5, tickLength: 7, tickColor: axisColor, tickWidth: 1.5 },
          border: { color: axisColor, width: 1.5 },
          title: {
            display: true,
            text: 'Latitude',
            color: '#000',
            font: { family: FONT, size: 23, weight: 'bold' },
            padding: { top: 0, bottom: 5 },
          },
          afterFit: (s: any) => {
            s.height = 95;
          },
        },
        y: {
          type: 'linear',
          min: yMin,
          max: yMax,
          ticks: {
            stepSize: yStep,
            display: false,
          },
          grid: { color: gridColor, lineWidth: 1.5, tickLength: 10, tickColor: axisColor, tickWidth: 1.5 },
          border: { color: axisColor, width: 1.5 },
          title: {
            display: true,
            text: 'Area (km\u00b2)',
            color: '#000',
            font: { family: FONT, size: 23, weight: 'bold' },
            padding: { top: 21, bottom: 0 },
          },
          afterFit: (s: any) => {
            s.width = 142;
          },
        },
      },
    },
    plugins: [makeOverlay(spec)],
  };
}

const specA: Spec = {
  tag: 'A',
  scenario: 'A1B scenario',
  lat: a1bLat,
  area: a1bArea,
  extra: a1bExtraPts,
  scatter: a1bScatterPts,
  colors: RED,
  legendShift: 0,
};
const specB: Spec = {
  tag: 'B',
  scenario: 'A2 scenario',
  lat: a2Lat,
  area: a2Area,
  extra: a2ExtraPts,
  scatter: a2ScatterPts,
  colors: GREEN,
  legendShift: -5,
};

function Panel({ spec, left }: { spec: Spec; left: number }) {
  const ref = useRef<HTMLCanvasElement | null>(null);
  useEffect(() => {
    if (!ref.current) return;
    const chart = new Chart(ref.current, buildConfig(spec));
    return () => chart.destroy();
  }, [spec]);
  return (
    <canvas
      ref={ref}
      width={645}
      height={542}
      style={{ position: 'absolute', left, top: 0, width: 645, height: 542 }}
    />
  );
}

export default function App() {
  return (
    <div
      style={{
        position: 'fixed',
        left: 0,
        top: 0,
        width: 1293,
        height: 542,
        background: '#fff',
        overflow: 'hidden',
      }}
    >
      <Panel spec={specA} left={0} />
      <Panel spec={specB} left={644} />
    </div>
  );
}
